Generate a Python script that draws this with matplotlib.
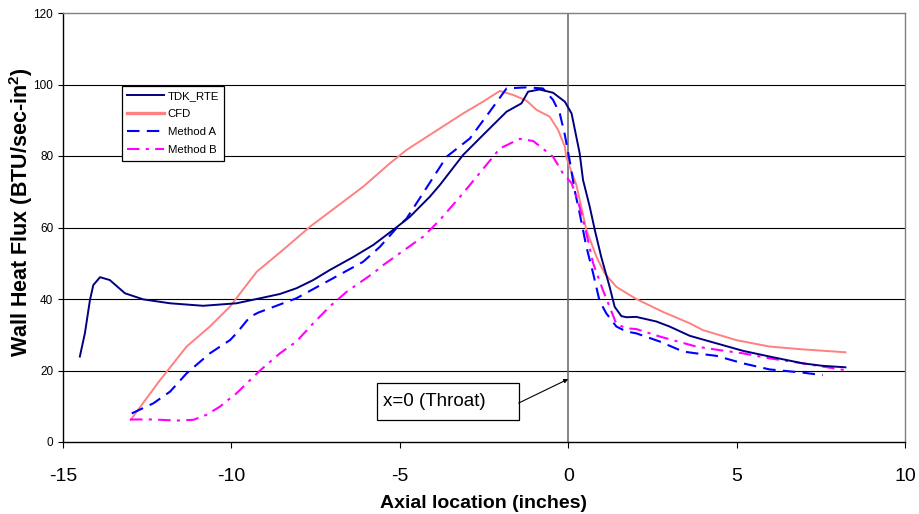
import matplotlib
matplotlib.use("Agg")
import matplotlib.pyplot as plt
from matplotlib.patches import Rectangle

plt.rcParams['font.family'] = ['Liberation Sans', 'DejaVu Sans']
plt.rcParams['axes.unicode_minus'] = False
plt.rcParams['mathtext.fontset'] = 'custom'
plt.rcParams['mathtext.rm'] = 'Liberation Sans'
plt.rcParams['mathtext.bf'] = 'Liberation Sans:bold'

# ---------------- data ----------------
tdk_x = [-14.50, -14.35, -14.20, -14.10, -13.90, -13.61, -13.16, -12.62, -11.82, -10.84,
         -9.85, -9.15, -8.56, -8.07, -7.57, -7.08, -6.39, -5.79, -5.20, -4.70,
         -4.11, -3.81, -3.12, -2.43, -1.83, -1.39, -1.19, -0.85, -0.45, -0.10,
         0.10, 0.34, 0.44, 0.64, 0.79, 0.98, 1.23, 1.38, 1.58, 1.73,
         2.02, 2.62, 3.01, 3.61, 4.40, 5.19, 5.98, 6.97, 7.56, 8.23]
tdk_y = [23.9, 30.4, 39.7, 43.9, 46.1, 45.3, 41.6, 39.9, 38.8, 38.1,
         38.8, 40.2, 41.4, 43.0, 45.3, 48.1, 51.7, 55.1, 59.3, 63.0,
         68.6, 71.9, 80.3, 86.8, 92.4, 94.7, 98.0, 98.6, 97.7, 95.2,
         91.9, 80.8, 73.3, 65.8, 59.3, 51.8, 43.4, 37.8, 35.2, 34.9,
         35.0, 33.7, 32.3, 29.7, 27.6, 25.5, 23.9, 22.0, 21.3, 20.9]

cfd_x = [-12.99, -12.12, -11.33, -10.64, -10.04, -9.25, -8.36, -7.67, -6.88, -6.09,
         -5.30, -4.80, -4.11, -3.12, -2.53, -2.03, -1.64, -1.24, -0.94, -0.55,
         -0.30, -0.10, -0.06, 0.10, 0.24, 0.54, 0.84, 1.08, 1.43, 2.02,
         2.81, 3.61, 4.00, 4.99, 5.98, 6.97, 8.23]
cfd_y = [6.2, 17.3, 26.7, 32.3, 37.9, 47.6, 54.6, 60.2, 65.8, 71.4,
         77.9, 81.7, 85.9, 91.9, 95.2, 98.2, 97.1, 95.5, 92.9, 91.0,
         87.3, 82.6, 79.8, 75.5, 72.0, 59.3, 51.8, 47.2, 43.4, 40.0,
         36.4, 33.2, 31.3, 28.5, 26.7, 25.9, 25.1]

ma_x = [-12.96, -12.32, -11.82, -11.33, -10.64, -10.04, -9.85, -9.45, -9.20, -8.07,
        -7.08, -6.09, -5.59, -5.10, -4.80, -4.31, -3.61, -2.92, -2.33, -1.83,
        -1.24, -0.75, -0.45, -0.25, -0.10, 0.04, 0.19, 0.34, 0.54, 0.74,
        0.93, 1.13, 1.43, 1.73, 2.02, 2.72, 3.41, 3.80, 4.40, 5.19,
        5.98, 6.97, 7.56]
ma_y = [8.0, 10.8, 14.1, 19.2, 24.8, 28.5, 30.4, 35.0, 36.2, 40.2,
        45.3, 50.4, 54.6, 59.8, 62.5, 69.6, 79.8, 84.9, 92.4, 98.9,
        99.2, 98.9, 95.7, 91.9, 85.9, 78.9, 70.5, 64.0, 54.6, 47.2,
        39.5, 36.0, 32.3, 30.9, 30.4, 28.1, 25.3, 24.8, 24.1, 22.0,
        20.3, 19.4, 18.7]

mb_x = [-13.01, -12.32, -11.63, -11.13, -10.74, -10.34, -10.04, -9.85, -9.15, -8.56,
        -8.07, -7.57, -7.08, -6.58, -5.79, -5.49, -5.00, -4.31, -3.81, -3.12,
        -2.43, -2.03, -1.44, -1.04, -0.45, -0.16, 0.10, 0.29, 0.54, 0.74,
        1.03, 1.23, 1.43, 1.73, 2.02, 2.72, 3.80, 4.49, 5.19, 5.98,
        6.97, 7.56, 8.23]
mb_y = [6.3, 6.3, 6.0, 6.2, 7.6, 9.9, 12.2, 13.6, 20.0, 24.8,
        28.1, 33.2, 37.9, 42.0, 47.2, 49.5, 52.8, 57.4, 62.1, 69.6,
        77.5, 82.1, 84.8, 84.2, 79.8, 75.2, 72.4, 67.5, 58.4, 50.0,
        42.5, 37.8, 33.0, 31.8, 31.6, 29.5, 26.7, 25.7, 24.8, 23.4,
        22.0, 21.1, 20.1]

series_labels = ["TDK_RTE", "CFD", "Method A", "Method B"]
x_ticks = [-15, -10, -5, 0, 5, 10]
y_ticks = [0, 20, 40, 60, 80, 100, 120]
annot_text = "x=0 (Throat)"

# ---------------- figure ----------------
W, H = 919, 514
fig = plt.figure(figsize=(W / 100, H / 100), dpi=100)
L, R, T, B = 63, 905, 13, 442
ax = fig.add_axes([L / W, 1 - B / H, (R - L) / W, (B - T) / H])

ax.set_xlim(-15, 10)
ax.set_ylim(0, 120)
ax.set_xticks(x_ticks)
ax.set_yticks(y_ticks)
ax.set_xticklabels([str(v) for v in x_ticks], fontsize=14)
ax.set_yticklabels([str(v) for v in y_ticks], fontsize=8.5)
ax.tick_params(axis='x', direction='out', length=4.5, width=0.8, pad=14, colors='black')
ax.tick_params(axis='y', direction='out', length=3.5, width=0.8, pad=3.5, colors='black')

for yv in y_ticks[1:-1]:
    ax.axhline(yv, color='black', lw=0.8, zorder=1)
ax.axvline(0, color='#707070', lw=1.2, zorder=1)

for s in ['left', 'bottom']:
    ax.spines[s].set_color('black')
    ax.spines[s].set_linewidth(1.0)
for s in ['top', 'right']:
    ax.spines[s].set_color('#808080')
    ax.spines[s].set_linewidth(1.0)

ax.plot(tdk_x, tdk_y, color='#000080', lw=1.4, label=series_labels[0], zorder=5)
ax.plot(cfd_x, cfd_y, color='#FF8080', lw=1.4, label=series_labels[1], zorder=3)
ax.plot(ma_x, ma_y, color='#0000FF', lw=1.5, ls=(0, (6, 3.5)), label=series_labels[2], zorder=4)
ax.plot(mb_x, mb_y, color='#FF00FF', lw=1.5, ls=(0, (6, 3, 1.5, 3)), label=series_labels[3], zorder=4)

leg = ax.legend(loc='upper left', bbox_to_anchor=(121.7 / W, 1 - 85.7 / H),
                bbox_transform=fig.transFigure, borderaxespad=0, fontsize=8.2,
                frameon=True, fancybox=False, edgecolor='black', framealpha=1,
                handlelength=3.3, handletextpad=0.3, labelspacing=0.72,
                borderpad=0.45)
leg.get_frame().set_linewidth(0.9)
for h in leg.get_lines():
    if h.get_color() == '#FF8080':
        h.set_linewidth(2.4)

ax.set_xlabel("Axial location (inches)", fontsize=14, fontweight='bold', va='center')
ax.xaxis.set_label_coords(0.5, (B - 503) / (B - T))
ax.set_ylabel(r"Wall Heat Flux (BTU/sec-in$^\mathbf{2}$)", fontsize=15.5,
              fontweight='bold', va='center')
ax.yaxis.set_label_coords((21 - L) / (R - L), (B - 212) / (B - T))

# annotation box
bx0, bx1 = -5.68, -1.47
by0, by1 = 6.15, 16.42
ax.add_patch(Rectangle((bx0, by0), bx1 - bx0, by1 - by0, facecolor='white',
                       edgecolor='black', lw=0.9, zorder=6))
ax.text(-5.51, (by0 + by1) / 2, annot_text, fontsize=13.5, ha='left', va='center', zorder=7)
ax.annotate("", xy=(0, 17.6), xytext=(bx1, 10.9),
            arrowprops=dict(arrowstyle='-|>', color='black', lw=0.8,
                            mutation_scale=6, shrinkA=0, shrinkB=0), zorder=7)

fig.savefig("out.png", dpi=100)
